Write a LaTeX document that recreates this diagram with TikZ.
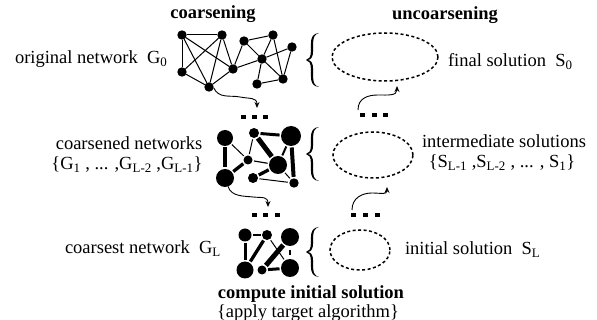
\documentclass[tikz,border=0pt]{standalone}
\usepackage{fontspec}
\setmainfont{Liberation Serif}
\usetikzlibrary{arrows.meta,shapes.geometric}
\newcommand{\sbx}[1]{\textsubscript{#1}}
% filled curly brace: stem x, centre y, half height
\newcommand{\drawbrace}[3]{%
  \fill ({#1+7},{#2-#3}) .. controls ({#1+1},{#2-#3+0.5}) and ({#1-1.1},{#2-#3+4}) .. ({#1-1.1},{#2-#3+11})
    -- ({#1-1.1},{#2-9}) .. controls ({#1-1.1},{#2-3}) and ({#1-3},{#2-0.6}) .. ({#1-6},{#2})
    .. controls ({#1-3},{#2+0.6}) and ({#1-1.1},{#2+3}) .. ({#1-1.1},{#2+9})
    -- ({#1-1.1},{#2+#3-11}) .. controls ({#1-1.1},{#2+#3-4}) and ({#1+1},{#2+#3-0.5}) .. ({#1+7},{#2+#3})
    .. controls ({#1+2},{#2+#3-1.5}) and ({#1+1.1},{#2+#3-5}) .. ({#1+1.1},{#2+#3-11})
    -- ({#1+1.1},{#2+9}) .. controls ({#1+1.1},{#2+3}) and ({#1-1},{#2+0.5}) .. ({#1-4},{#2})
    .. controls ({#1-1},{#2-0.5}) and ({#1+1.1},{#2-3}) .. ({#1+1.1},{#2-9})
    -- ({#1+1.1},{#2-#3+11}) .. controls ({#1+1.1},{#2-#3+5}) and ({#1+2},{#2-#3+1.5}) .. cycle;}
\begin{document}
\begin{tikzpicture}[x=1pt,y=-1pt,
  every node/.style={inner sep=0pt, outer sep=0pt},
  txt/.style={font=\fontsize{18.5}{20}\selectfont},
  ttl/.style={font=\fontsize{18.5}{20}\selectfont\bfseries},
  vtx/.style={circle, fill=black, minimum size=#1},
  vtx/.default=9.4pt,
  ed/.style={line width=1pt},
  ced/.style={line width=#1, shorten <=1.5pt, shorten >=1.5pt},
  sol/.style={ellipse, draw, dash pattern=on 3pt off 2.5pt, line width=1.5pt},
  dotsq/.style={rectangle, fill=black, minimum width=5pt, minimum height=4.5pt},
  squig/.style={line width=0.9pt, -{Stealth[length=6pt,width=5pt]}}
]
\useasboundingbox (0,0) rectangle (597,320);

% titles
\node[ttl, anchor=base] (tc) at (213,19) {coarsening};
\node[ttl, anchor=base] (tu) at (445,20) {uncoarsening};

% left labels
\node[txt, anchor=base west] (l0) at (15,64) {original network~ G\sbx{0}};
\node[txt, anchor=base] (l1a) at (129,150) {coarsened networks};
\node[txt, anchor=base] (l1b) at (127,170) {\{G\sbx{1} , ... ,G\sbx{L-2} ,G\sbx{L-1}\}};
\node[txt, anchor=base west] (l2) at (65,254) {coarsest network~ G\sbx{L}};

% right labels
\node[txt, anchor=base west] (r0) at (448,67) {final solution~ S\sbx{0}};
\node[txt, anchor=base] (r1a) at (504,148) {intermediate solutions};
\node[txt, anchor=base] (r1b) at (502,168) {\{S\sbx{L-1} ,S\sbx{L-2} , ... , S\sbx{1}\}};
\node[txt, anchor=base west] (r2) at (405,255) {initial solution~ S\sbx{L}};

% bottom
\node[ttl, anchor=base] (b1) at (311,299) {compute initial solution};
\node[txt, anchor=base] (b2) at (308,317.5) {\{apply target algorithm\}};

% original network
\node[vtx] (a) at (182,35) {};
\node[vtx] (b) at (222,35) {};
\node[vtx] (c) at (182,72) {};
\node[vtx] (d) at (209,87) {};
\node[vtx] (e) at (233,69) {};
\node[vtx] (f) at (244,41) {};
\node[vtx] (g) at (273,35) {};
\node[vtx] (h) at (292,47) {};
\node[vtx] (i) at (262,59) {};
\node[vtx] (j) at (257,84) {};
\node[vtx] (k) at (283,79) {};
\foreach \u/\v in {a/b,a/c,a/e,a/d,b/c,b/d,b/e,c/d,d/e,e/f,e/i,f/g,f/i,g/i,g/k,i/h,h/k,i/k,i/j,j/k}
  \draw[ed] (\u) -- (\v);

% coarsened network
\node[vtx=16pt] (A) at (225,138) {};
\node[vtx=10pt] (B) at (254,133) {};
\node[vtx=20pt] (C) at (291,136) {};
\node[vtx=9pt] (D) at (248,160) {};
\node[vtx=18pt] (E) at (278,165) {};
\node[vtx=18pt] (F) at (225,178) {};
\node[vtx=10pt] (G) at (253,178) {};
\node[vtx=9.4pt] (H) at (294,183) {};
\draw[ced=1pt] (A) -- (D);
\draw[ced=1pt] (B) -- (D);
\draw[ced=1.2pt] (D) -- (E);
\draw[ced=1pt] (G) -- (H);
\draw[ced=1pt] (E) -- (H);
\draw[ced=3.3pt] (A) -- (F);
\draw[ced=3pt] (B) -- (C);
\draw[ced=5pt] (B) -- (E);
\draw[ced=2pt] (C) -- (E);
\draw[ced=4pt] (C) -- (H);
\draw[ced=3.3pt] (D) -- (F);
\draw[ced=3.3pt] (E) -- (G);

% coarsest network
\node[vtx=13pt] (P) at (245,235) {};
\node[vtx=10pt] (Q) at (267,235) {};
\node[vtx=18pt] (R) at (290,237) {};
\node[vtx=17pt] (S) at (245,270) {};
\node[vtx=9pt] (T) at (262,270) {};
\node[vtx=18pt] (U) at (290,268) {};
\draw[ced=2pt] (P) -- (Q);
\draw[ced=3pt] (P) -- (S);
\draw[ced=3.3pt] (Q) -- (S);
\draw[ced=1pt] (Q) -- (U);
\draw[ced=5pt] (R) -- (T);
\draw[ced=1.5pt, shorten <=4pt, shorten >=4pt] (R) -- (U);
\draw[ced=3pt] (T) -- (U);

% braces
\drawbrace{312}{60}{27}
\drawbrace{312}{154}{27}
\drawbrace{312}{252}{25}

% solutions
\node[sol, minimum width=106pt, minimum height=48pt] (s0) at (385,57) {};
\node[sol, minimum width=80pt, minimum height=46pt] (s1) at (373,155) {};
\node[sol, minimum width=60pt, minimum height=40pt] (s2) at (360,250) {};

% dots
\foreach \n/\x/\y in {la1/243/117,la2/254/117,la3/265/117,
                      lb1/254/215,lb2/265.5/215,lb3/277/215,
                      ra1/362/115,ra2/374/115,ra3/385.5/115,
                      rb1/353/215,rb2/365.5/215,rb3/377/215}
  \node[dotsq] (\n) at (\x,\y) {};

% squiggly arrows
\coordinate (t1) at (257,108);
\coordinate (t2) at (268,207);
\coordinate (t3) at (397,86);
\coordinate (t4) at (387,187);
\coordinate (s3) at (358,110);
\coordinate (s4) at (352,210);
\draw[squig] (d.-10) .. controls (219,99) and (230,95) .. (240,97)
                     .. controls (250,99) and (257,97) .. (t1);
\draw[squig] (F.-70) .. controls (231,197) and (245,196) .. (253,197)
                     .. controls (262,198) and (268,196) .. (t2);
\draw[squig] (s3) .. controls (358,98) and (368,95) .. (378,95)
                  .. controls (388,95) and (397,96) .. (t3);
\draw[squig] (s4) .. controls (352,198) and (362,193) .. (372,193)
                  .. controls (381,193) and (387,195) .. (t4);
\end{tikzpicture}
\end{document}
